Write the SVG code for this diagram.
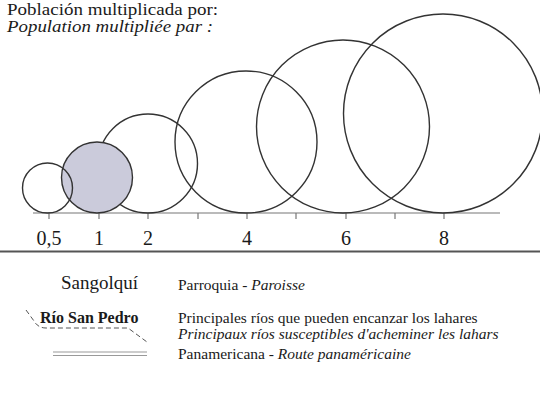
<svg xmlns="http://www.w3.org/2000/svg" width="540" height="395" viewBox="0 0 540 395">
<style>
text{font-family:"Liberation Serif","Times New Roman",serif;fill:#1a1a1a}
.c{fill:none;stroke:#333;stroke-width:1.4}
.ax{stroke:#777;stroke-width:1.2;fill:none}
.num{font-size:20px;text-anchor:middle}
.lg{font-size:15.5px}
.t{font-size:16.5px}
.big{font-size:19px}
.b{font-size:16px;font-weight:bold}
.it{font-style:italic}
</style>
<rect width="540" height="395" fill="#fff"/>
<g id="title">
<text x="7" y="14.5" class="t" textLength="211" lengthAdjust="spacingAndGlyphs">Población multiplicada por:</text>
<text x="7" y="31.5" class="t it" textLength="206" lengthAdjust="spacingAndGlyphs">Population multipliée par :</text>
</g>
<g id="axis">
<line class="ax" x1="33" y1="213" x2="500" y2="213"/>
<path class="ax" d="M49,213v6M99,213v6M148,213v6M198,213v6M247,213v6M296,213v6M346,213v6M395,213v6M444,213v6"/>
<text class="num" x="49" y="245">0,5</text>
<text class="num" x="99" y="245">1</text>
<text class="num" x="148" y="245">2</text>
<text class="num" x="247" y="245">4</text>
<text class="num" x="346" y="245">6</text>
<text class="num" x="444" y="245">8</text>
</g>
<g id="circle-8"><circle class="c" cx="443" cy="113.5" r="99.5"/></g>
<g id="circle-6"><circle class="c" cx="343" cy="126.5" r="86.5"/></g>
<g id="circle-4"><circle class="c" cx="246" cy="142" r="71"/></g>
<g id="circle-2"><circle class="c" cx="148" cy="163.5" r="49.5"/></g>
<g id="circle-1"><circle cx="97" cy="177.5" r="35.5" fill="#cbcbdb" stroke="#333" stroke-width="1.4"/></g>
<g id="circle-05"><circle class="c" cx="47.5" cy="188" r="25"/></g>
<line x1="0" y1="251.5" x2="540" y2="251.5" stroke="#555" stroke-width="2"/>
<g id="legend-parroquia">
<text x="138" y="289" class="big" text-anchor="end">Sangolquí</text>
<text x="178" y="290" class="lg">Parroquia - <tspan class="it">Paroisse</tspan></text>
</g>
<g id="legend-rios">
<path d="M26,310 L34,321 Q38,328 46,328 L128,328 L147,342" fill="none" stroke="#555" stroke-width="1" stroke-dasharray="5,3"/>
<text x="40" y="323" class="b">Río San Pedro</text>
<text x="178" y="323" class="lg">Principales ríos que pueden encanzar los lahares</text>
<text x="178" y="339" class="lg it">Principaux ríos susceptibles d'acheminer les lahars</text>
</g>
<g id="legend-panamericana">
<line x1="53" y1="352" x2="147" y2="352" stroke="#999" stroke-width="1"/>
<line x1="53" y1="355.5" x2="147" y2="355.5" stroke="#999" stroke-width="1"/>
<text x="178" y="359" class="lg">Panamericana - <tspan class="it">Route panaméricaine</tspan></text>
</g>
</svg>
